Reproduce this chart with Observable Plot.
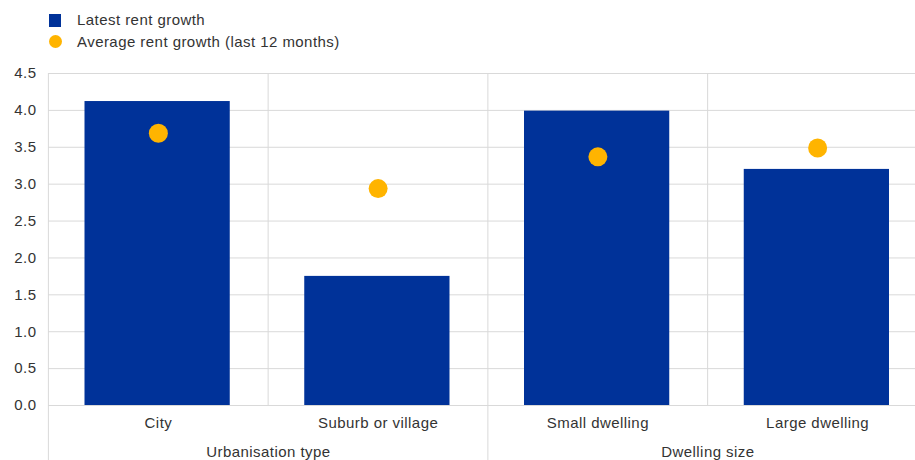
<!DOCTYPE html>
<html><head><meta charset="utf-8">
<script src="https://cdn.jsdelivr.net/npm/d3@7"></script>
<script src="https://cdn.jsdelivr.net/npm/@observablehq/plot@0.6"></script>
<style>
body{margin:0;overflow:hidden;background:#fff;font-family:"Liberation Sans",Arial,sans-serif;}
#legend{height:58px;position:relative;font-size:15px;letter-spacing:0.45px;color:#333;}
.item{position:absolute;left:0;height:16px;line-height:16px;white-space:nowrap;}
.sw{position:absolute;}
.lbl{position:absolute;left:77px;}
#chart{width:915px;overflow:hidden;}
#chart svg{max-width:none !important;width:928px;height:402px;}
#chart svg text{letter-spacing:0.45px;}
</style></head>
<body>
<div id="legend"></div>
<div id="chart"></div>
<script>
const categories = ["City", "Suburb or village", "Small dwelling", "Large dwelling"];
const groups = ["Urbanisation type", "Urbanisation type", "Dwelling size", "Dwelling size"];
const latest = [4.12, 1.75, 3.99, 3.2];
const average = [3.69, 2.94, 3.37, 3.49];
const yTicks = [0, 0.5, 1, 1.5, 2, 2.5, 3, 3.5, 4, 4.5];
const seriesNames = ["Latest rent growth", "Average rent growth (last 12 months)"];
const colors = ["#003299", "#FFB400"];

// legend
const legend = document.getElementById("legend");
legend.innerHTML = `
<div class="item" style="top:12px;width:400px"><div class="sw" style="left:49px;top:2px;width:12px;height:13px;background:${colors[0]}"></div><div class="lbl">${seriesNames[0]}</div></div>
<div class="item" style="top:34px;width:400px"><div class="sw" style="left:49px;top:1px;width:13px;height:13px;border-radius:50%;background:${colors[1]}"></div><div class="lbl">${seriesNames[1]}</div></div>`;

const data = categories.map((c, i) => ({category: c, group: groups[i], latest: latest[i], average: average[i]}));
const isStart = (d, i) => i === 0 || groups[i] !== groups[i - 1];
const groupStarts = data.filter(isStart);
const inner = data.filter((d, i) => !isStart(d, i));

const chart = Plot.plot({
  width: 928,
  height: 402,
  marginLeft: 48,
  marginRight: 1,
  marginTop: 15,
  marginBottom: 55,
  style: {fontSize: "15px", fontFamily: "'Liberation Sans', Arial, sans-serif", color: "#333", background: "#fff", overflow: "visible"},
  x: {domain: categories, padding: 0, round: false, label: null},
  y: {domain: [0, 4.5], label: null},
  marks: [
    Plot.ruleY(yTicks, {y: d => d, stroke: "#d9d9d9", strokeWidth: 1, strokeOpacity: 1}),
    Plot.ruleX(groupStarts, {x: "category", y1: 4.5, y2: 0, dx: -110, insetBottom: -56, stroke: "#d9d9d9", strokeOpacity: 1}),
    Plot.ruleX(inner, {x: "category", y1: 4.5, y2: 0, dx: -110, stroke: "#d9d9d9", strokeOpacity: 1}),
    Plot.barY(data, {x: "category", y: "latest", fill: colors[0], insetLeft: 36.5, insetRight: 38}),
    Plot.dot(data, {x: "category", y: "average", r: 9.5, fill: colors[1], stroke: "none"}),
    Plot.axisY({ticks: yTicks, tickFormat: d3.format(".1f"), tickSize: 0, tickPadding: 12, fontSize: 15}),
    Plot.axisX({tickSize: 0, tickPadding: 12, fontSize: 15}),
    Plot.text(groupStarts, {x: "category", y: 0, text: "group", dx: 110, dy: 47, fontSize: 15, fill: "#333"})
  ]
});
document.getElementById("chart").appendChild(chart);
</script>
</body></html>
